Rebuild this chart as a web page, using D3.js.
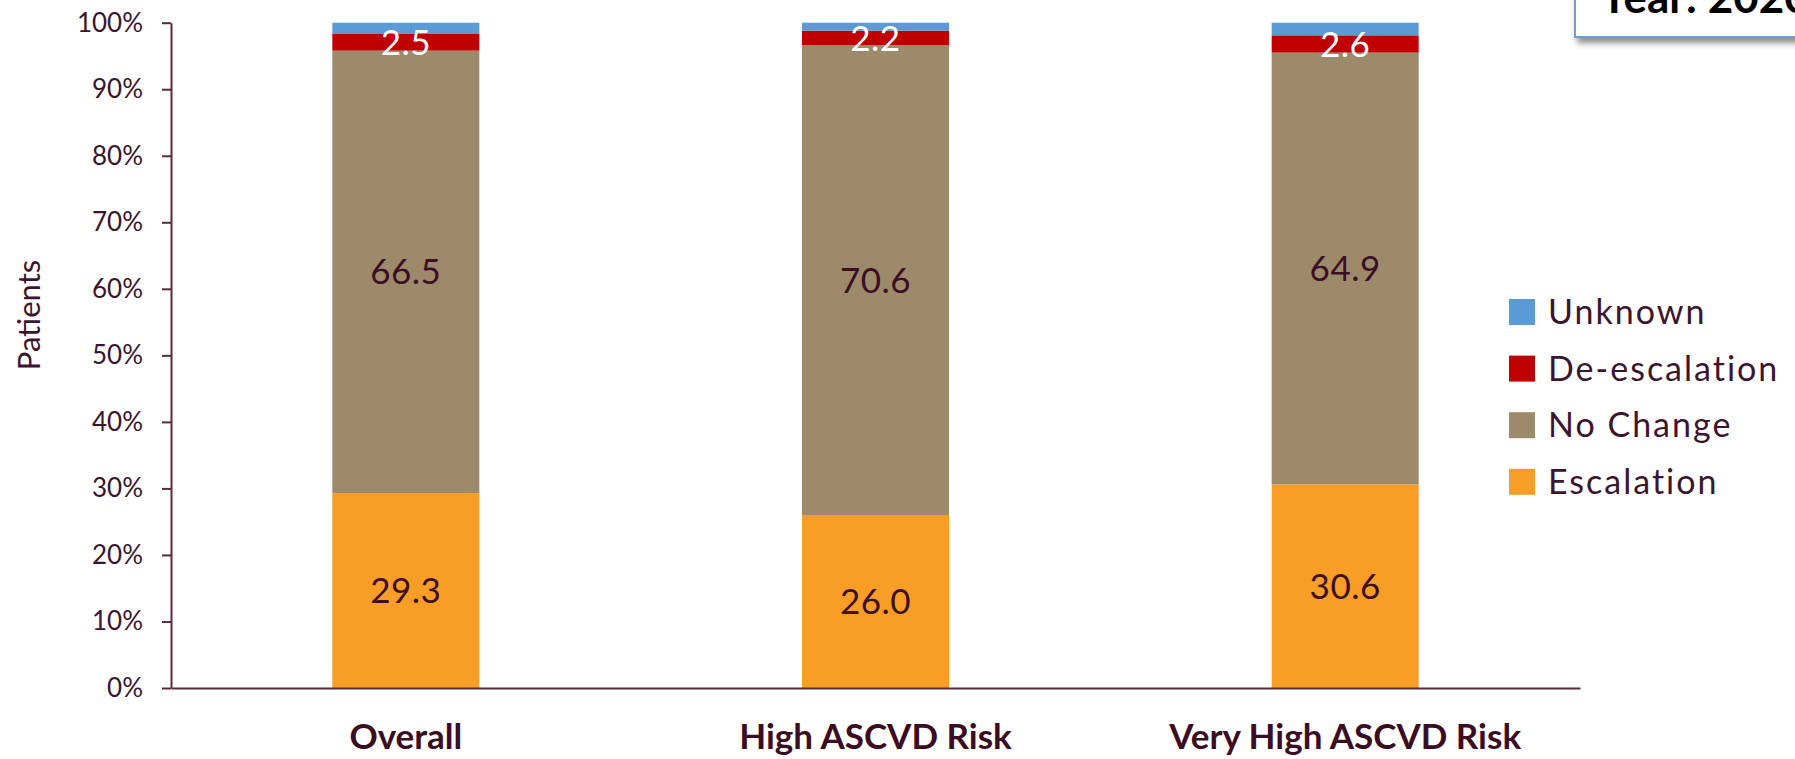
<!DOCTYPE html>
<html>
<head>
<meta charset="utf-8">
<script src="https://cdn.jsdelivr.net/npm/d3@7"></script>
<style>
  html, body { margin: 0; padding: 0; background: #fff; overflow: hidden; }
  svg { display: block; }
</style>
</head>
<body>
<svg id="chart" width="1795" height="759"></svg>
<script>
// ---- data ----
const categories = ["Overall", "High ASCVD Risk", "Very High ASCVD Risk"];
const seriesNames = ["Escalation", "No Change", "De-escalation", "Unknown"];
const escalation = [29.3, 26.0, 30.6];
const noChange = [66.5, 70.6, 64.9];
const deEscalation = [2.5, 2.2, 2.6];
const unknown = [1.7, 1.2, 1.9];
const yTicks = [0, 10, 20, 30, 40, 50, 60, 70, 80, 90, 100];
const yTickLabels = ["0%", "10%", "20%", "30%", "40%", "50%", "60%", "70%", "80%", "90%", "100%"];
const titleText = "Year: 2020";
const yAxisTitle = "Patients";

// ---- styles ----
const colors = {
  "Escalation": "#f89d25",
  "No Change": "#9c8a6b",
  "De-escalation": "#c00000",
  "Unknown": "#5b9bd5"
};
const labelColors = {
  "Escalation": "#3d0f24",
  "No Change": "#3d0f24",
  "De-escalation": "#ffffff"
};
const textColor = "#3b1530";
const axisColor = "#5a2a3c";
const font = "Lato, 'Open Sans', sans-serif";

const seriesValues = {
  "Escalation": escalation,
  "No Change": noChange,
  "De-escalation": deEscalation,
  "Unknown": unknown
};

const rows = categories.map((c, i) => {
  const r = { category: c };
  seriesNames.forEach(s => r[s] = seriesValues[s][i]);
  return r;
});

const svg = d3.select("#chart");
const plotLeft = 171, plotRight = 1580, plotTop = 22.7, plotBottom = 688;

const x = d3.scaleBand()
  .domain(categories)
  .range([plotLeft, plotRight])
  .paddingInner(0.687)
  .paddingOuter(0.3435);

const y = d3.scaleLinear().domain([0, 100]).range([plotBottom, plotTop]);

const stack = d3.stack().keys(seriesNames);
const stacked = stack(rows);

// bars
const g = svg.append("g");
stacked.forEach(layer => {
  g.selectAll(null)
    .data(layer)
    .enter()
    .append("rect")
    .attr("x", d => x(d.data.category))
    .attr("width", x.bandwidth())
    .attr("y", d => y(d[1]))
    .attr("height", d => y(d[0]) - y(d[1]))
    .attr("fill", colors[layer.key]);
});

// value labels
stacked.forEach(layer => {
  if (!(layer.key in labelColors)) return;
  g.selectAll(null)
    .data(layer)
    .enter()
    .append("text")
    .attr("x", d => x(d.data.category) + x.bandwidth() / 2)
    .attr("y", d => y((d[0] + d[1]) / 2))
    .attr("dy", "0.36em")
    .attr("text-anchor", "middle")
    .attr("font-family", font)
    .attr("font-size", 35)
    .attr("letter-spacing", 0.5)
    .attr("fill", labelColors[layer.key])
    .text(d => (d[1] - d[0]).toFixed(1));
});

// y axis
const yAxis = d3.axisLeft(y)
  .tickValues(yTicks)
  .tickFormat((d, i) => yTickLabels[i])
  .tickSizeInner(9)
  .tickSizeOuter(0)
  .tickPadding(19);
const ya = svg.append("g").attr("transform", `translate(${plotLeft},0)`).call(yAxis);
ya.select(".domain").attr("stroke", axisColor).attr("stroke-width", 2);
ya.selectAll(".tick line").attr("stroke", axisColor).attr("stroke-width", 2);
ya.selectAll(".tick text")
  .attr("font-family", font)
  .attr("font-size", 26)
  .attr("fill", textColor);

// x axis
const xAxis = d3.axisBottom(x).tickSize(0).tickSizeOuter(0).tickPadding(36);
const xa = svg.append("g").attr("transform", `translate(0,${plotBottom})`).call(xAxis);
xa.select(".domain").attr("stroke", axisColor).attr("stroke-width", 2);
xa.selectAll(".tick text")
  .attr("font-family", font)
  .attr("font-weight", "bold")
  .attr("font-size", 35)
  .attr("fill", "#3a0d22");

// y axis title
svg.append("text")
  .attr("transform", `translate(40,${315}) rotate(-90)`)
  .attr("text-anchor", "middle")
  .attr("font-family", font)
  .attr("font-size", 31)
  .attr("fill", textColor)
  .text(yAxisTitle);

// legend
const legendNames = seriesNames.slice().reverse();
const lg = svg.append("g");
legendNames.forEach((name, i) => {
  const cy = 312 + i * 56.6;
  lg.append("rect")
    .attr("x", 1509).attr("y", cy - 13)
    .attr("width", 26).attr("height", 26)
    .attr("fill", colors[name]);
  lg.append("text")
    .attr("x", 1548).attr("y", cy + 12)
    .attr("font-family", font)
    .attr("font-size", 34)
    .attr("letter-spacing", 2)
    .attr("fill", textColor)
    .text(name);
});

// title box (partially out of view, as in the source)
const defs = svg.append("defs");
const f = defs.append("filter").attr("id", "shadow")
  .attr("x", "-10%").attr("y", "-50%").attr("width", "130%").attr("height", "200%");
f.append("feDropShadow").attr("dx", 3).attr("dy", 5).attr("stdDeviation", 3)
  .attr("flood-color", "#000").attr("flood-opacity", 0.45);
svg.append("rect")
  .attr("x", 1575).attr("y", -40)
  .attr("width", 300).attr("height", 77)
  .attr("fill", "#fff")
  .attr("stroke", "#6a9fd4")
  .attr("stroke-width", 2)
  .attr("filter", "url(#shadow)");
svg.append("text")
  .attr("x", 1600).attr("y", 13)
  .attr("font-family", font)
  .attr("font-weight", "bold")
  .attr("font-size", 44)
  .attr("fill", "#000")
  .text(titleText);
</script>
</body>
</html>
